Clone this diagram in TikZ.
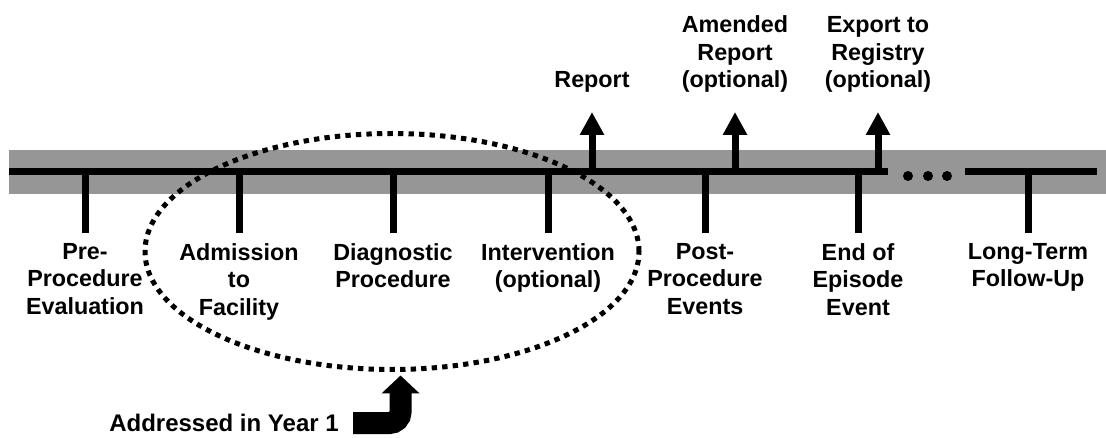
\documentclass[tikz,border=0pt]{standalone}
\usepackage{fontspec}
\setmainfont{Liberation Sans}
\usetikzlibrary{positioning,arrows.meta,shapes.geometric}
\definecolor{bandgray}{RGB}{150,150,150}

\begin{document}
\begin{tikzpicture}[x=0.75pt,y=-0.75pt,
	lbl/.style={align=center,inner sep=0pt,font=\bfseries\fontsize{17.5}{20.6}\selectfont},
	tick/.style={line width=5.25pt,shorten >=7.5pt},
	up/.style={line width=5.25pt,shorten >=14.25pt,-{Triangle[width=17.25pt,length=17.25pt]}},
	yearone/.style={draw,ellipse,inner sep=0pt,minimum width=370.5pt,minimum height=177pt,
		line width=3.75pt,dash pattern=on 4pt off 3.9pt},
	bigarrow/.style={line width=16.5pt,rounded corners=8.25pt,-{Triangle[width=27.75pt,length=13.5pt]}}]
		\useasboundingbox (0,0) rectangle (1106,438);
		% timeline band
		\fill[bandgray] (9,150) rectangle (1106,194);
		\coordinate (t1) at (85,172);
		\coordinate (t2) at (239,172);
		\coordinate (t3) at (393,172);
		\coordinate (t4) at (548,172);
		\coordinate (t5) at (705,172);
		\coordinate (t6) at (858,172);
		\coordinate (t7) at (1028,172);
		\coordinate (a1) at (592,172);
		\coordinate (a2) at (735,172);
		\coordinate (a3) at (878,172);
		\draw[line width=5.25pt] (9,172) -- (888,172);
		\foreach \x in {908,928,947}
			\fill (\x,176) circle[radius=3.75pt];
		\draw[line width=5.25pt] (965,172) -- (1097,172);
		% steps below the line
		\node[lbl,below=53.25pt of t1] (pre) {Pre-\\Procedure\\Evaluation};
		\node[lbl,below=53.25pt of t2] (adm) {Admission\\to\\Facility};
		\node[lbl,below=53.25pt of t3] (dia) {Diagnostic\\Procedure};
		\node[lbl,below=53.25pt of t4] (int) {Intervention\\(optional)};
		\node[lbl,below=53.25pt of t5] (post) {Post-\\Procedure\\Events};
		\node[lbl,below=53.25pt of t6] (eoe) {End of\\Episode\\Event};
		\node[lbl,below=53.25pt of t7] (ltf) {Long-Term\\Follow-Up};
		% outputs above the line
		\node[lbl,above=59.25pt of a1] (rep) {Report};
		\node[lbl,above=59.25pt of a2] (amd) {Amended\\Report\\(optional)};
		\node[lbl,above=59.25pt of a3] (exp) {Export to\\Registry\\(optional)};
		\path[tick]
		(t1) edge (pre)
		(t2) edge (adm)
		(t3) edge (dia)
		(t4) edge (int)
		(t5) edge (post)
		(t6) edge (eoe)
		(t7) edge (ltf);
		\path[up]
		(a1) edge (rep)
		(a2) edge (amd)
		(a3) edge (exp);
		% year 1 scope
		\node[yearone] (yr1) at (392,251.5) {};
		\node[lbl,font=\bfseries\fontsize{18}{21}\selectfont,anchor=east] (addr) at (339,423) {Addressed in Year 1};
		\draw[bigarrow] ([xshift=10.5pt]addr.east) -| ([xshift=6.4pt,yshift=-2.6pt]yr1.south);
\end{tikzpicture}
\end{document}
